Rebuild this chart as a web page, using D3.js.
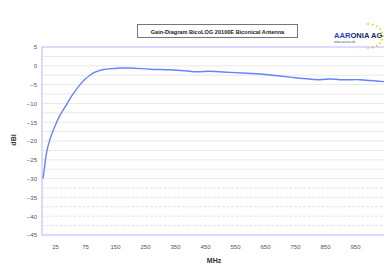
<!DOCTYPE html>
<html><head><meta charset="utf-8">
<script src="https://cdn.jsdelivr.net/npm/d3@7"></script>
<style>html,body{margin:0;padding:0;background:#fff;overflow:hidden}</style>
</head><body>
<svg id="c" width="384" height="265"></svg>
<script>
const title = "Gain-Diagram BicoLOG 20100E Biconical Antenna";
const xTickLabels = [25, 75, 150, 250, 350, 450, 550, 650, 750, 850, 950];
const yTicks = [5, 0, -5, -10, -15, -20, -25, -30, -35, -40, -45];
const freqMHz = [5, 8, 11, 16.7, 25, 33.3, 41.7, 50, 58.3, 66.7, 75, 87.5, 100, 112.5, 125, 137.5, 150, 166.7, 200, 266.7, 333, 383, 423, 467, 533, 590, 633, 667, 733, 767, 833, 867, 900, 967, 1000, 1047];
const gainDBi = [-30, -26.5, -23, -19.5, -16, -13.2, -11, -8.7, -6.8, -5, -3.6, -2.5, -1.7, -1.2, -0.9, -0.8, -0.7, -0.6, -0.6, -0.9, -1.05, -1.3, -1.6, -1.45, -1.75, -2.0, -2.2, -2.45, -3.0, -3.3, -3.7, -3.5, -3.7, -3.7, -3.9, -4.2];

const svg = d3.select("#c");
const L = 42, T = 47, B = 235, R = 390;
const step = 30, firstLabelX = 55;

const x = d3.scaleLinear()
  .domain(xTickLabels)
  .range(xTickLabels.map((d, i) => firstLabelX + i * step));
const y = d3.scaleLinear().domain([-45, 5]).range([B, T]);

// gridlines every 2.5 dB
const grid = d3.range(-42.5, 5, 2.5);
svg.append("g").selectAll("line").data(grid).join("line")
  .attr("x1", L).attr("x2", R)
  .attr("y1", d => y(d)).attr("y2", d => y(d))
  .attr("stroke", d => d < -30 ? "#e2e2e2" : "#e8e8e8")
  .attr("stroke-dasharray", d => d < -30 ? "3,1.5" : null)
  .attr("stroke-width", 1);

// frame
svg.append("rect").attr("x", L).attr("y", T).attr("width", R - L).attr("height", B - T)
  .attr("fill", "none").attr("stroke", "#c4c4ff").attr("stroke-width", 1.2);

// y axis
const yAxis = d3.axisLeft(y).tickValues(yTicks).tickSize(0).tickPadding(5);
const gy = svg.append("g").attr("transform", `translate(${L},0)`).call(yAxis);
gy.select(".domain").remove();
gy.selectAll("text").attr("font-family", "Arial, 'Liberation Sans', sans-serif")
  .attr("font-size", 6).attr("fill", "#555");

// x axis
const xAxis = d3.axisBottom(x).tickValues(xTickLabels).tickSize(0).tickPadding(10);
const gx = svg.append("g").attr("transform", `translate(0,${B})`).call(xAxis);
gx.select(".domain").remove();
gx.selectAll("text").attr("font-family", "Arial, 'Liberation Sans', sans-serif")
  .attr("font-size", 6).attr("fill", "#555");

// curve
svg.append("clipPath").attr("id", "pc").append("rect")
  .attr("x", L).attr("y", T - 2).attr("width", R - L).attr("height", B - T + 4);
const line = d3.line().x((d, i) => x(freqMHz[i])).y(d => y(d)).curve(d3.curveCatmullRom.alpha(0.5));
svg.append("path").datum(gainDBi).attr("d", line)
  .attr("fill", "none").attr("stroke", "#6484ff").attr("stroke-width", 1.4)
  .attr("clip-path", "url(#pc)");

// axis titles
svg.append("text").attr("x", 214).attr("y", 263).attr("text-anchor", "middle")
  .attr("font-family", "Arial, 'Liberation Sans', sans-serif").attr("font-weight", "bold")
  .attr("font-size", 7).attr("fill", "#333").text("MHz");
svg.append("text").attr("transform", "translate(16,140) rotate(-90)").attr("text-anchor", "middle")
  .attr("font-family", "Arial, 'Liberation Sans', sans-serif").attr("font-weight", "bold")
  .attr("font-size", 7).attr("fill", "#333").text("dBi");

// title box
svg.append("rect").attr("x", 137.5).attr("y", 24.5).attr("width", 160).attr("height", 13)
  .attr("fill", "#fff").attr("stroke", "#777").attr("stroke-width", 1);
svg.append("text").attr("x", 217.5).attr("y", 33.5).attr("text-anchor", "middle")
  .attr("font-family", "Arial, 'Liberation Sans', sans-serif").attr("font-weight", "bold")
  .attr("font-size", 5.6).attr("fill", "#222").text(title);

// logo
const lg = svg.append("g");
const starAngles = d3.range(-90, 100, 18);
lg.selectAll("circle").data(starAngles).join("circle")
  .attr("cx", d => 368 + 15 * Math.cos(d * Math.PI / 180))
  .attr("cy", d => 36 + 12 * Math.sin(d * Math.PI / 180))
  .attr("r", 0.9).attr("fill", "#e8c400");
const lt = lg.append("text").attr("x", 334).attr("y", 38)
  .attr("font-family", "Arial, 'Liberation Sans', sans-serif").attr("font-weight", "bold")
  .attr("font-size", 7.6);
lt.append("tspan").attr("fill", "#1f3fd0").text("AAR");
lt.append("tspan").attr("fill", "#1a2a5a").text("ONIA AG");
lg.append("text").attr("x", 334).attr("y", 43).attr("font-family", "Arial, sans-serif")
  .attr("font-size", 3).attr("fill", "#556").text("www.aaronia.de");
</script>
</body></html>
